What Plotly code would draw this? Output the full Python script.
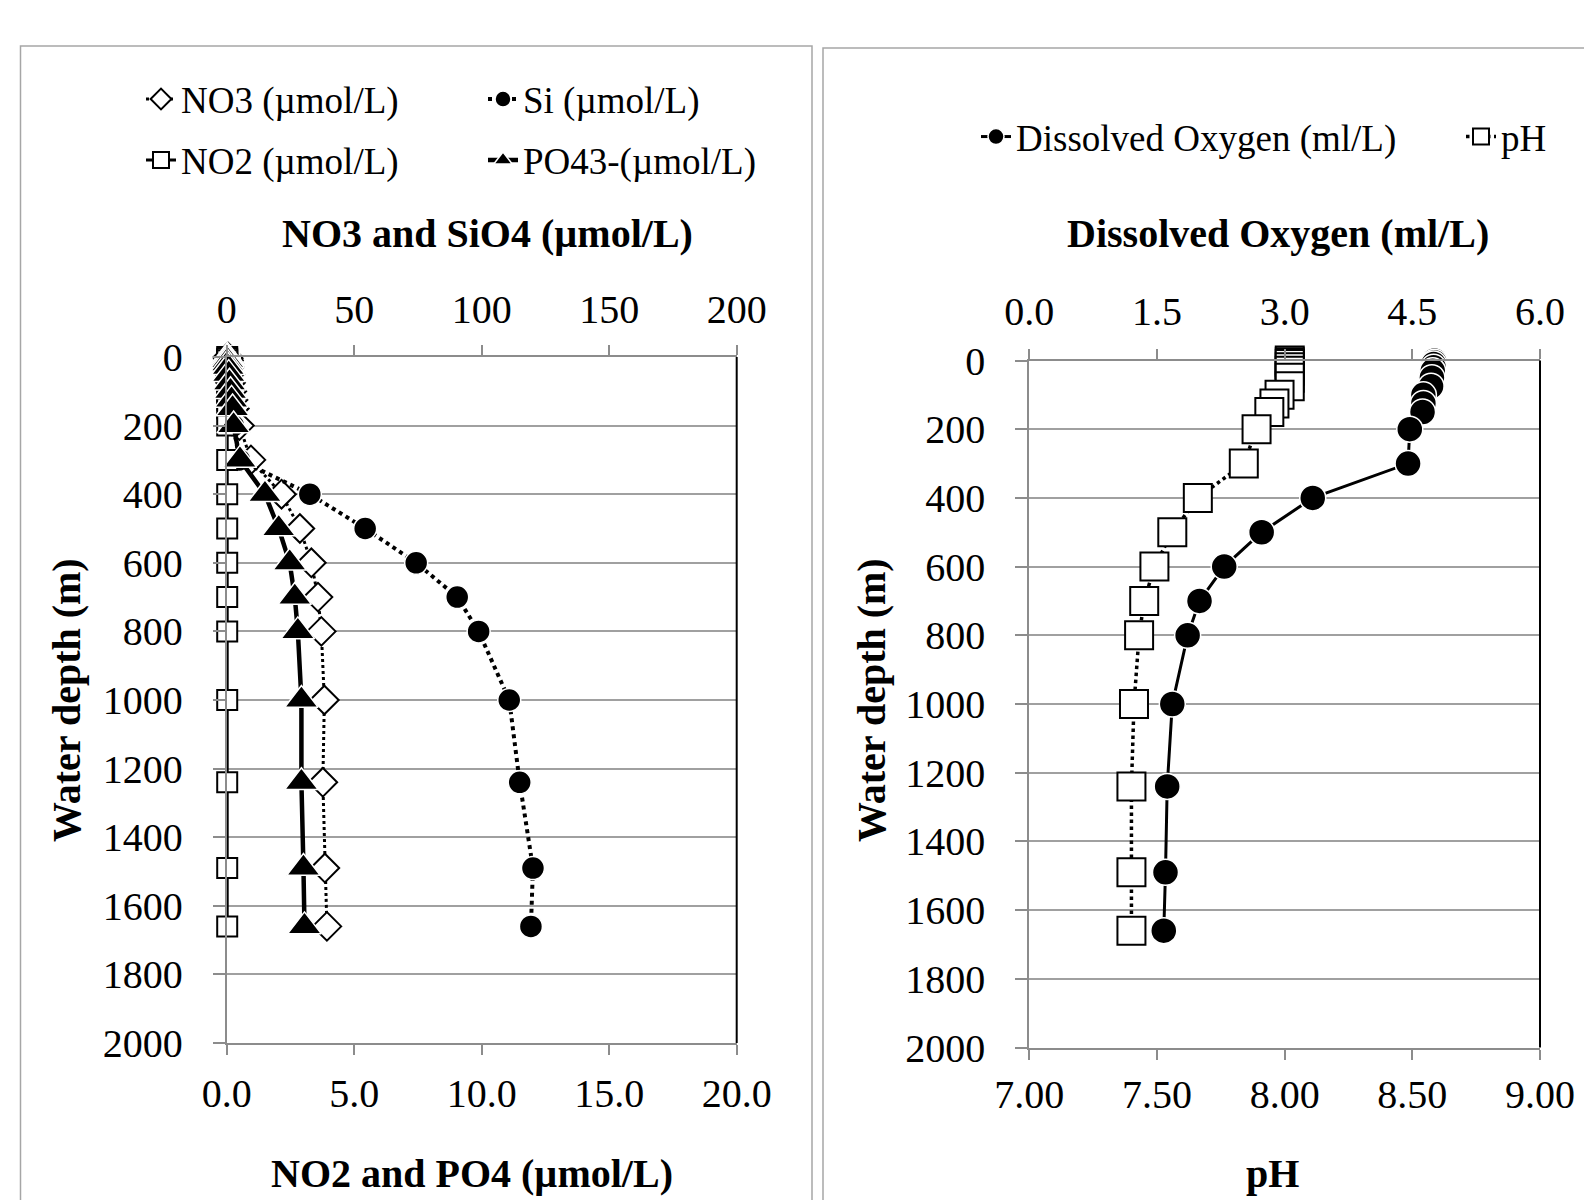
import plotly.graph_objects as go

# ---------------- data ----------------
depth_m = [0, 5, 10, 20, 30, 50, 75, 100, 125, 150, 200, 300, 400, 500, 600, 700, 800, 1000, 1240, 1490, 1660]

no3_umol = [0.5, 0.6, 0.7, 0.8, 1.0, 1.2, 1.5, 2.0, 2.5, 3.0, 5.0, 9.5, 21.5, 28.7, 33.2, 35.8, 37.1, 38.3, 37.7, 38.5, 39.3]
si_umol = [0.8, 0.8, 0.9, 0.9, 1.0, 1.1, 1.3, 1.5, 1.8, 2.0, 2.6, 5.0, 32.6, 54.3, 74.3, 90.4, 98.8, 110.8, 114.9, 120.1, 119.3]
no2_umol = [0.02, 0.02, 0.02, 0.02, 0.02, 0.02, 0.03, 0.03, 0.03, 0.02, 0.02, 0.02, 0.02, 0.02, 0.02, 0.02, 0.02, 0.02, 0.02, 0.02, 0.02]
po4_umol = [0.03, 0.03, 0.04, 0.04, 0.06, 0.08, 0.11, 0.15, 0.19, 0.23, 0.27, 0.52, 1.50, 2.04, 2.47, 2.67, 2.79, 2.93, 2.93, 3.01, 3.05]

do_mll = [4.76, 4.76, 4.75, 4.75, 4.74, 4.73, 4.72, 4.63, 4.63, 4.62, 4.47, 4.45, 3.33, 2.73, 2.29, 2.00, 1.86, 1.68, 1.62, 1.60, 1.58]
ph_val = [8.02, 8.02, 8.02, 8.02, 8.02, 8.02, 8.02, 7.98, 7.96, 7.94, 7.89, 7.84, 7.66, 7.56, 7.49, 7.45, 7.43, 7.41, 7.40, 7.40, 7.40]

top_ticks_left = [0, 50, 100, 150, 200]
bottom_ticks_left = [0.0, 5.0, 10.0, 15.0, 20.0]
top_ticks_right = [0.0, 1.5, 3.0, 4.5, 6.0]
bottom_ticks_right = [7.00, 7.50, 8.00, 8.50, 9.00]
depth_ticks = [0, 200, 400, 600, 800, 1000, 1200, 1400, 1600, 1800, 2000]

# ---------------- styling ----------------
W, H = 1592, 1200
PAGE_OFFSET = 8  # default body margin of the html page
FONT = "Liberation Serif"
AX_GRAY = "#8c8c8c"
GRID_GRAY = "#a0a0a0"
TICK_SIZE = 40

def px_x(v):
    return (v - PAGE_OFFSET) / W

def px_y(v):
    return 1 - (v - PAGE_OFFSET) / H

L_dom_x = [px_x(226.7), px_x(736.7)]
L_dom_y = [px_y(1043), px_y(357)]
R_dom_x = [px_x(1029.3), px_x(1540)]
R_dom_y = [px_y(1047.5), px_y(360.5)]

fig = go.Figure()

# Left chart traces (x = top NO3/SiO4 axis, x2 = bottom NO2/PO4 axis drawn on top)
fig.add_trace(go.Scatter(
    x=no3_umol, y=depth_m, xaxis="x", yaxis="y", name="NO3 (µmol/L)",
    mode="lines+markers", line=dict(color="black", width=3, dash="dot"),
    marker=dict(symbol="diamond", size=22, color="white", line=dict(color="black", width=2)),
    cliponaxis=False, legend="legend"))
fig.add_trace(go.Scatter(
    x=si_umol, y=depth_m, xaxis="x", yaxis="y", name="Si (µmol/L)",
    mode="lines+markers", line=dict(color="black", width=4, dash="dot"),
    marker=dict(symbol="circle", size=23, color="black", line=dict(color="white", width=1.5)),
    cliponaxis=False, legend="legend2"))
fig.add_trace(go.Scatter(
    x=no2_umol, y=depth_m, xaxis="x2", yaxis="y", name="NO2 (µmol/L)",
    mode="lines+markers", line=dict(color="black", width=3),
    marker=dict(symbol="square", size=20, color="white", line=dict(color="black", width=2)),
    cliponaxis=False, legend="legend3"))
fig.add_trace(go.Scatter(
    x=po4_umol, y=depth_m, xaxis="x2", yaxis="y", name="PO43-(µmol/L)",
    mode="lines+markers", line=dict(color="black", width=4.5),
    marker=dict(symbol="triangle-up", size=29, color="black", line=dict(color="white", width=1.5)),
    cliponaxis=False, legend="legend4"))

# Right chart traces
fig.add_trace(go.Scatter(
    x=do_mll, y=depth_m, xaxis="x4", yaxis="y2", name="Dissolved Oxygen (ml/L)",
    mode="lines+markers", line=dict(color="black", width=3),
    marker=dict(symbol="circle", size=26, color="black", line=dict(color="white", width=1.5)),
    cliponaxis=False, legend="legend5"))
fig.add_trace(go.Scatter(
    x=ph_val, y=depth_m, xaxis="x3", yaxis="y2", name="pH",
    mode="lines+markers", line=dict(color="black", width=3.5, dash="dot"),
    marker=dict(symbol="square", size=28, color="white", line=dict(color="black", width=2)),
    cliponaxis=False, legend="legend6"))

tickfont = dict(family=FONT, size=TICK_SIZE, color="black")

def xax(domain, rng, ticks, fmt, side, standoff, overlay=None, anchor="y"):
    d = dict(range=rng, tickvals=ticks, ticktext=[format(t, fmt) for t in ticks],
             side=side, anchor=anchor, showline=True, linecolor=AX_GRAY, linewidth=2,
             ticks="outside", ticklen=10, tickwidth=2, tickcolor=AX_GRAY,
             showgrid=False, zeroline=False, tickfont=tickfont, automargin=False,
             ticklabelstandoff=standoff)
    if overlay:
        d["overlaying"] = overlay
    else:
        d["domain"] = domain
    return d

def yax(domain, anchor, standoff):
    return dict(domain=domain, anchor=anchor, range=[2000, 0], tickvals=depth_ticks,
                showline=True, linecolor=AX_GRAY, linewidth=2, ticks="outside", ticklen=12,
                tickwidth=2, tickcolor=AX_GRAY, showgrid=True, gridcolor=GRID_GRAY, gridwidth=2,
                zeroline=False, tickfont=tickfont, ticklabelstandoff=standoff, automargin=False)

def legend_at(text_start_px, center_y_px):
    return dict(x=px_x(text_start_px - 42), y=px_y(center_y_px), xanchor="left", yanchor="middle",
                orientation="h", bgcolor="rgba(0,0,0,0)", borderwidth=0,
                font=dict(family=FONT, size=37, color="black"))

title_font = dict(family=FONT, size=40, color="black", weight="bold")

annotations = [
    dict(text="NO3 and SiO4 (µmol/L)", x=px_x(487), y=px_y(233.5)),
    dict(text="NO2 and PO4 (µmol/L)", x=px_x(472), y=px_y(1173)),
    dict(text="Water depth (m)", x=px_x(66), y=px_y(700), textangle=-90),
    dict(text="Dissolved Oxygen (ml/L)", x=px_x(1278), y=px_y(233.5)),
    dict(text="pH", x=px_x(1272), y=px_y(1173)),
    dict(text="Water depth (m)", x=px_x(871), y=px_y(700), textangle=-90),
]
for a in annotations:
    a.update(xref="paper", yref="paper", showarrow=False, font=title_font,
             xanchor="center", yanchor="middle")

shapes = [
    # chart frames
    dict(type="rect", xref="paper", yref="paper", x0=px_x(20.5), x1=px_x(812), y0=-0.2, y1=px_y(46),
         line=dict(color="#a6a6a6", width=1.5), layer="below"),
    dict(type="rect", xref="paper", yref="paper", x0=px_x(823), x1=1.2, y0=-0.2, y1=px_y(48),
         line=dict(color="#a6a6a6", width=1.5), layer="below"),
    # black right borders of plot areas
    dict(type="line", xref="x domain", yref="y domain", x0=1, x1=1, y0=0, y1=1,
         line=dict(color="black", width=2)),
    dict(type="line", xref="x3 domain", yref="y2 domain", x0=1, x1=1, y0=0, y1=1,
         line=dict(color="black", width=2)),
]

fig.update_layout(
    template="none",
    width=W, height=H,
    margin=dict(l=0, r=0, t=0, b=0, autoexpand=False),
    paper_bgcolor="white", plot_bgcolor="white",
    font=dict(family=FONT, color="black"),
    showlegend=True,
    xaxis=xax(L_dom_x, [0, 200], top_ticks_left, "d", "top", 6, anchor="y"),
    xaxis2=xax(None, [0, 20], bottom_ticks_left, ".1f", "bottom", 4, overlay="x", anchor="y"),
    xaxis3=xax(R_dom_x, [7, 9], bottom_ticks_right, ".2f", "bottom", 0, anchor="y2"),
    xaxis4=xax(None, [0, 6], top_ticks_right, ".1f", "top", 8, overlay="x3", anchor="y2"),
    yaxis=yax(L_dom_y, "x", 22),
    yaxis2=yax(R_dom_y, "x3", 22),
    legend=legend_at(183, 99.5),
    legend2=legend_at(525, 99.5),
    legend3=legend_at(183, 160.5),
    legend4=legend_at(525, 160.5),
    legend5=legend_at(1018, 137),
    legend6=legend_at(1503, 137),
    annotations=annotations,
    shapes=shapes,
)

fig.write_html("out.html")
